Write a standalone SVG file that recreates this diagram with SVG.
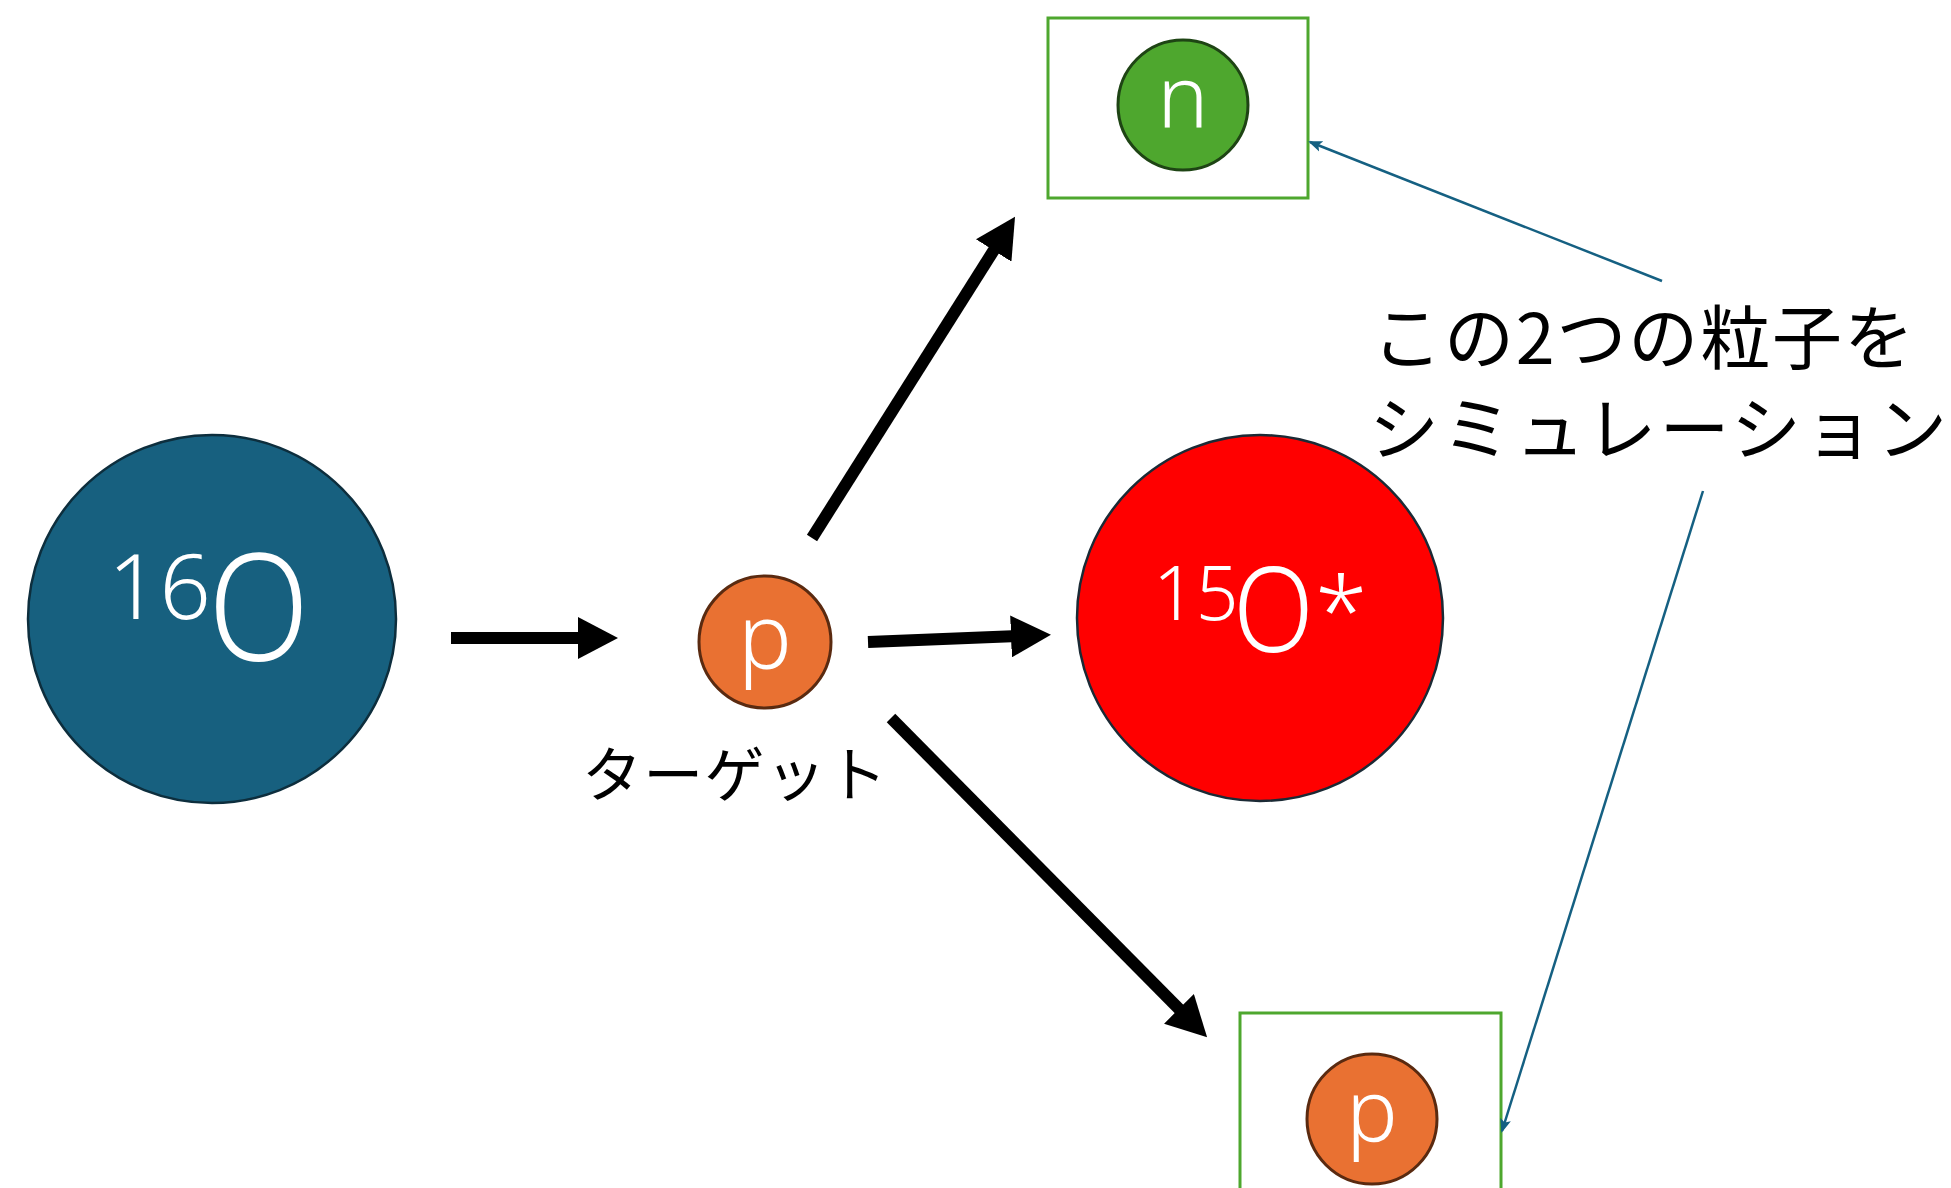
<svg xmlns="http://www.w3.org/2000/svg" width="1951" height="1188" viewBox="0 0 1951 1188">
  <defs>
    <marker id="bigHead" viewBox="0 -21 40 42" refX="10" refY="0" markerWidth="40" markerHeight="42" markerUnits="userSpaceOnUse" orient="auto">
      <path d="M0,-21 L40,0 L0,21 z" fill="#000"/>
    </marker>
    <marker id="blueHead" viewBox="0 -6 14 12" refX="12" refY="0" markerWidth="14" markerHeight="12" markerUnits="userSpaceOnUse" orient="auto">
      <path d="M0,-5.5 L14,0 L0,5.5 L3,0 z" fill="#156082"/>
    </marker>
  </defs>
  <style>
    .t { font-family: "Noto Sans CJK JP", "Noto Sans", sans-serif; }
    .l { font-family: "Noto Sans", "Noto Sans CJK JP", sans-serif; font-weight: 350; }
    .w { fill: #ffffff; }
    .k { fill: #000000; }
    .big { stroke: #000; stroke-width: 12; fill: none; marker-end: url(#bigHead); }
    .blue { stroke: #156082; stroke-width: 2.5; fill: none; marker-end: url(#blueHead); }
    .box { fill: none; stroke: #4EA72E; stroke-width: 3; }
  </style>
  <rect width="1951" height="1188" fill="#ffffff"/>

  <g id="node-o16">
    <circle cx="212" cy="619" r="184" fill="#17607F" stroke="#0D2E3D" stroke-width="2.5"/>
    <text class="l w" x="108" y="619" font-size="90">16</text>
    <text class="l w" transform="translate(208,661) scale(0.88,1)" font-size="150">O</text>
  </g>

  <g id="node-target">
    <circle cx="765" cy="642" r="66" fill="#E97132" stroke="#5A2A10" stroke-width="3"/>
    <text class="l w" x="765" y="669" font-size="90" text-anchor="middle">p</text>
    <text class="t k" x="582" y="797" font-size="60" textLength="305" lengthAdjust="spacing">ターゲット</text>
  </g>

  <g id="node-o15">
    <circle cx="1260" cy="618" r="183" fill="#FF0000" stroke="#1B2A35" stroke-width="2.5"/>
    <text class="l w" x="1153" y="620" font-size="75">15</text>
    <text class="l w" transform="translate(1233,652) scale(0.9,1)" font-size="117">O</text>
    <text class="l w" x="1315" y="646" font-size="95">*</text>
  </g>

  <g id="node-n">
    <rect class="box" x="1048" y="18" width="260" height="180"/>
    <circle cx="1183" cy="105" r="65" fill="#4EA72E" stroke="#1E4414" stroke-width="3"/>
    <text class="l w" x="1183" y="128" font-size="86" text-anchor="middle">n</text>
  </g>

  <g id="node-p-out">
    <rect class="box" x="1240" y="1013" width="261" height="190"/>
    <circle cx="1372" cy="1119" r="65" fill="#E97132" stroke="#5A2A10" stroke-width="3"/>
    <text class="l w" x="1372" y="1142" font-size="86" text-anchor="middle">p</text>
  </g>

  <g id="node-label">
    <text class="t k" x="1372" y="364" font-size="70" textLength="542" lengthAdjust="spacing">この2つの粒子を</text>
    <text class="t k" x="1369" y="455" font-size="70" textLength="578" lengthAdjust="spacing">シミュレーション</text>
  </g>

  <g id="connectors">
    <line class="big" x1="451" y1="638" x2="588" y2="638"/>
    <line class="big" x1="868" y1="642" x2="1021" y2="636"/>
    <line class="big" x1="812" y1="538" x2="999" y2="242"/>
    <line class="big" x1="891" y1="718" x2="1186" y2="1016"/>
    <line class="blue" x1="1662" y1="281" x2="1310" y2="142"/>
    <line class="blue" x1="1703" y1="491" x2="1502" y2="1131"/>
  </g>
</svg>
